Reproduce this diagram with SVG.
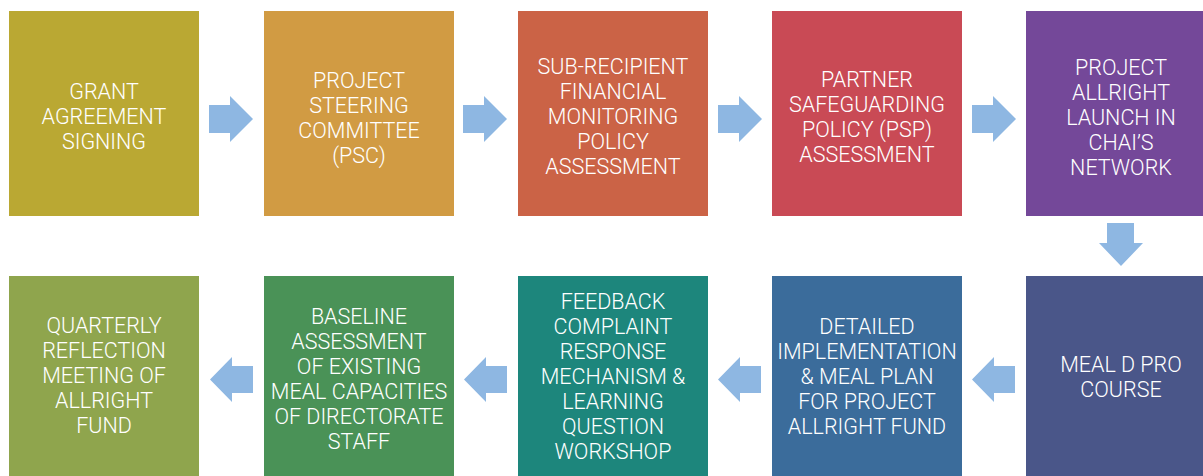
<svg xmlns="http://www.w3.org/2000/svg" width="1203" height="476" viewBox="0 0 1203 476">
<style>
text{font-family:Roboto,"Liberation Sans",sans-serif;font-size:21.5px;font-weight:300;fill:#ffffff;text-anchor:middle}
.arr{fill:#8EB7E2}
</style>
<defs>
<polygon id="ra" points="0,0 21,0 21,-9 44,14 21,37 21,28 0,28"/>
<polygon id="la" points="0,13.5 22,-9 22,0 43,0 43,27 22,27 22,36"/>
</defs>
<rect width="1203" height="476" fill="#ffffff"/>
<g id="n1"><rect x="9" y="11" width="190" height="205" fill="#BAA833"/>
<text x="104" y="99">GRANT</text><text x="104" y="124">AGREEMENT</text><text x="104" y="149">SIGNING</text></g>
<g id="n2"><rect x="264" y="11" width="190" height="205" fill="#D19B43"/>
<text x="359" y="88">PROJECT</text><text x="359" y="113">STEERING</text><text x="359" y="138">COMMITTEE</text><text x="359" y="163">(PSC)</text></g>
<g id="n3"><rect x="518" y="11" width="190" height="205" fill="#CB6346"/>
<text x="613" y="74">SUB-RECIPIENT</text><text x="613" y="99">FINANCIAL</text><text x="613" y="124">MONITORING</text><text x="613" y="149">POLICY</text><text x="613" y="174">ASSESSMENT</text></g>
<g id="n4"><rect x="772" y="11" width="190" height="205" fill="#C94A55"/>
<text x="867" y="87">PARTNER</text><text x="867" y="112">SAFEGUARDING</text><text x="867" y="137">POLICY (PSP)</text><text x="867" y="162">ASSESSMENT</text></g>
<g id="n5"><rect x="1026" y="11" width="190" height="205" fill="#744899"/>
<text x="1121" y="75">PROJECT</text><text x="1121" y="100">ALLRIGHT</text><text x="1121" y="125">LAUNCH IN</text><text x="1121" y="150">CHAI’S</text><text x="1121" y="175">NETWORK</text></g>
<g id="n6"><rect x="1026" y="276" width="190" height="205" fill="#4A5689"/>
<text x="1121" y="372">MEAL D PRO</text><text x="1121" y="397">COURSE</text></g>
<g id="n7"><rect x="772" y="276" width="190" height="205" fill="#3B6C9B"/>
<text x="867" y="334">DETAILED</text><text x="867" y="359">IMPLEMENTATION</text><text x="867" y="384">&amp; MEAL PLAN</text><text x="867" y="409">FOR PROJECT</text><text x="867" y="434">ALLRIGHT FUND</text></g>
<g id="n8"><rect x="518" y="276" width="190" height="205" fill="#1D867C"/>
<text x="613" y="309">FEEDBACK</text><text x="613" y="334">COMPLAINT</text><text x="613" y="359">RESPONSE</text><text x="613" y="384">MECHANISM &amp;</text><text x="613" y="409">LEARNING</text><text x="613" y="434">QUESTION</text><text x="613" y="459">WORKSHOP</text></g>
<g id="n9"><rect x="264" y="276" width="190" height="205" fill="#4A9257"/>
<text x="359" y="324">BASELINE</text><text x="359" y="349">ASSESSMENT</text><text x="359" y="374">OF EXISTING</text><text x="359" y="399">MEAL CAPACITIES</text><text x="359" y="424">OF DIRECTORATE</text><text x="359" y="449">STAFF</text></g>
<g id="n10"><rect x="9" y="276" width="190" height="205" fill="#8FA54D"/>
<text x="104" y="333">QUARTERLY</text><text x="104" y="358">REFLECTION</text><text x="104" y="383">MEETING OF</text><text x="104" y="408">ALLRIGHT</text><text x="104" y="433">FUND</text></g>
<g id="connectors" class="arr">
<use href="#ra" x="209" y="105"/>
<use href="#ra" x="463" y="105"/>
<use href="#ra" x="718" y="105"/>
<use href="#ra" x="972" y="105"/>
<polygon points="1107,223 1134,223 1134,243 1143,243 1121,266 1099,243 1107,243"/>
<use href="#la" x="972" y="366"/>
<use href="#la" x="718" y="366"/>
<use href="#la" x="464" y="366"/>
<use href="#la" x="210" y="366"/>
</g>
</svg>
